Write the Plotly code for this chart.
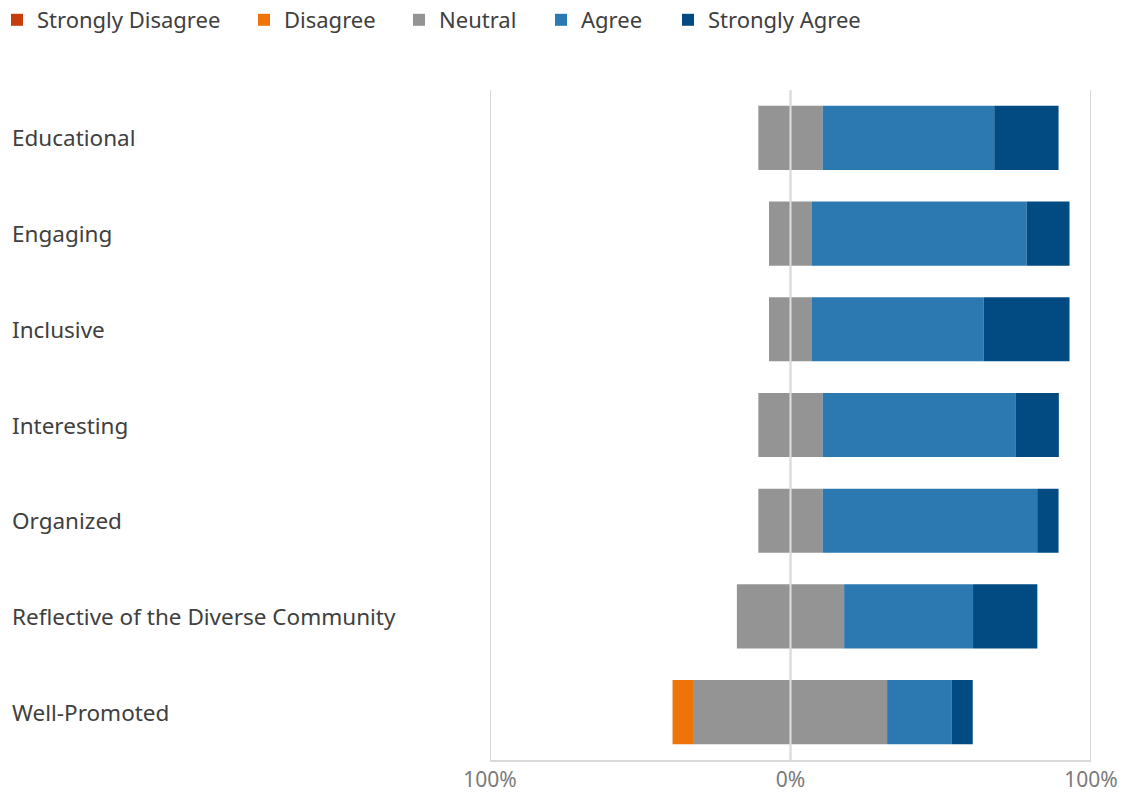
import plotly.graph_objects as go

categories = ["Educational", "Engaging", "Inclusive", "Interesting", "Organized",
              "Reflective of the Diverse Community", "Well-Promoted"]
strongly_disagree = [0, 0, 0, 0, 0, 0, 0]
disagree = [0, 0, 0, 0, 0, 0, 7.1]
neutral = [21.4, 14.3, 14.3, 21.4, 21.4, 35.7, 64.3]
agree = [57.1, 71.4, 57.1, 64.3, 71.4, 42.9, 21.4]
strongly_agree = [21.4, 14.3, 28.6, 14.3, 7.1, 21.4, 7.1]

tick_vals = [-100, 0, 100]
tick_text = ["100%", "0%", "100%"]

C_SD, C_D, C_N, C_A, C_SA = "#C43E0E", "#EE7308", "#949494", "#2C78B0", "#014A82"
FONT = "Noto Sans"
GRID = "#d9d9d9"

W, H = 1123, 795
plot_left, plot_w, plot_top, plot_h = 490, 601, 90, 670

# legend entry positions (marker centre, px from left of the page)
legend_centres = {"legend": 19, "legend2": 266, "legend3": 421, "legend4": 563, "legend5": 690}

fig = go.Figure()
neutral_neg = [-v / 2 for v in neutral]
neutral_pos = [v / 2 for v in neutral]

def add(name, vals, color, legend_id, show=True):
    fig.add_trace(go.Bar(y=categories, x=vals, name=name, orientation="h",
                         marker=dict(color=color, line=dict(width=0)),
                         showlegend=show, legend=legend_id, legendgroup=name,
                         hoverinfo="name+x"))

add("Neutral", neutral_neg, C_N, "legend3", show=False)
add("Neutral", neutral_pos, C_N, "legend3")
add("Disagree", [-v for v in disagree], C_D, "legend2")
add("Strongly Disagree", [-v for v in strongly_disagree], C_SD, "legend")
add("Agree", agree, C_A, "legend4")
add("Strongly Agree", strongly_agree, C_SA, "legend5")

for c in categories:
    fig.add_annotation(x=(10 - plot_left) / plot_w, xref="paper", y=c, yref="y",
                       text=c, showarrow=False, xanchor="left", yanchor="middle",
                       font=dict(family=FONT, size=22.5, color="#404040"))

# vertical gridlines (edges included) and zero line over the bars
for v in tick_vals:
    fig.add_shape(type="line", x0=v, x1=v, xref="x", y0=0, y1=1, yref="paper",
                  line=dict(color=GRID, width=2), layer="below")
fig.add_shape(type="line", x0=0, x1=0, xref="x", y0=0, y1=1, yref="paper",
              line=dict(color="#dedede", width=2), layer="above")

legends = {}
for lid, cx in legend_centres.items():
    legends[lid] = dict(orientation="h", xref="paper", x=(cx - 22 - plot_left) / plot_w,
                        xanchor="left", yref="paper", y=1 + (plot_top + 1) / plot_h,
                        yanchor="top", bgcolor="rgba(0,0,0,0)",
                        font=dict(family=FONT, size=22, color="#404040"),
                        itemwidth=30)

fig.update_layout(
    width=W, height=H,
    margin=dict(l=plot_left, r=W - plot_left - plot_w, t=plot_top, b=H - plot_top - plot_h,
                autoexpand=False),
    barmode="relative", bargap=0.33,
    plot_bgcolor="white", paper_bgcolor="white",
    font=dict(family=FONT, color="#404040"),
    xaxis=dict(range=[-100, 100], tickvals=tick_vals, ticktext=tick_text,
               showgrid=False, zeroline=False,
               showline=True, linecolor=GRID, linewidth=2,
               tickfont=dict(family=FONT, size=21, color="#7a7a7a"), ticks=""),
    yaxis=dict(categoryorder="array", categoryarray=categories, autorange="reversed",
               showticklabels=False, showgrid=False, zeroline=False),
    **legends,
)

fig.write_html("out.html", config={"displayModeBar": False},
               post_script="document.body.style.margin='0px';")
